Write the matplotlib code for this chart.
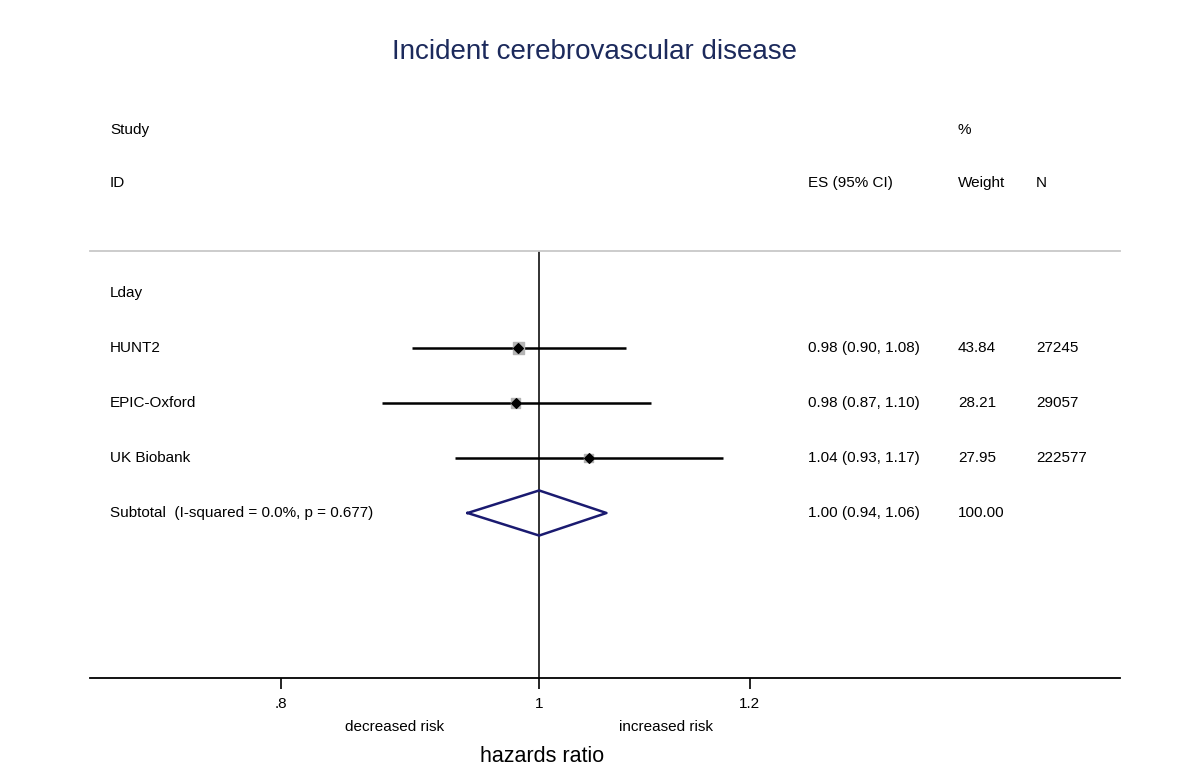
import numpy as np
import matplotlib.pyplot as plt
from matplotlib.transforms import blended_transform_factory
from matplotlib.ticker import FixedLocator, FixedFormatter, NullLocator

plt.rcParams['font.family'] = ['Liberation Sans', 'DejaVu Sans']

# data (positions, labels as printed)
studies = ['HUNT2', 'EPIC-Oxford', 'UK Biobank']
es = [0.982, 0.980, 1.044]
lo = [0.896, 0.873, 0.930]
hi = [1.078, 1.102, 1.172]
es_text = ['0.98 (0.90, 1.08)', '0.98 (0.87, 1.10)', '1.04 (0.93, 1.17)']
weights = [43.84, 28.21, 27.95]
n_obs = ['27245', '29057', '222577']
sub_es, sub_lo, sub_hi = 1.00, 0.94, 1.06
sub_text = '1.00 (0.94, 1.06)'
sub_label = 'Subtotal  (I-squared = 0.0%, p = 0.677)'
group = 'Lday'
ticks = [0.8, 1.0, 1.2]
tick_labels = ['.8', '1', '1.2']

W, H = 1189, 784
fig = plt.figure(figsize=(W / 100, H / 100), dpi=100)

# axes in pixel box: x 90..1120, y 251..678
top_px, bot_px, row0_px, row_px = 251, 678, 293, 55
ax = fig.add_axes([90 / W, (H - bot_px) / H, 1030 / W, (bot_px - top_px) / H])
ax.set_xscale('log')
ax.set_xlim(0.678, 1.653)
ax.set_ylim((bot_px - row0_px) / row_px, (top_px - row0_px) / row_px)

for s in ['left', 'right']:
    ax.spines[s].set_visible(False)
ax.spines['top'].set_color('#c8c8c8')
ax.spines['top'].set_linewidth(1.3)
ax.spines['bottom'].set_linewidth(1.3)
ax.set_yticks([])
ax.xaxis.set_major_locator(FixedLocator(ticks))
ax.xaxis.set_major_formatter(FixedFormatter(tick_labels))
ax.xaxis.set_minor_locator(NullLocator())
ax.tick_params(axis='x', length=8, width=1.2, labelsize=11, pad=6)

ax.axvline(1.0, color='#222222', lw=1.3, zorder=1)

rows = np.arange(1, len(studies) + 1)
ax.hlines(rows, lo, hi, color='black', lw=1.8, zorder=2)
ax.scatter(es, rows, s=np.array(weights) * 1.5, marker='s', color='#b4b4b4', zorder=3)
ax.scatter(es, rows, s=24, marker='D', color='black', zorder=4)

dy = 0.41
sr = len(studies) + 1
ax.plot([sub_lo, sub_es, sub_hi, sub_es, sub_lo], [sr, sr - dy, sr, sr + dy, sr],
        color='#1a1a70', lw=1.8, zorder=3)

# text columns: x in figure fraction, y in data rows
tr = blended_transform_factory(fig.transFigure, ax.transData)
fs = 11
xid, xes, xw, xn = 110 / W, 808 / W, 958 / W, 1036 / W
hdr1 = (130 - row0_px) / row_px
hdr2 = (183 - row0_px) / row_px


def put(x, y, s):
    ax.text(x, y, s, transform=tr, fontsize=fs, va='center', clip_on=False)


put(xid, hdr1, 'Study')
put(xid, hdr2, 'ID')
put(xes, hdr2, 'ES (95% CI)')
put(xw, hdr1, '%')
put(xw, hdr2, 'Weight')
put(xn, hdr2, 'N')

put(xid, 0, group)
for i, r in enumerate(rows):
    put(xid, r, studies[i])
    put(xes, r, es_text[i])
    put(xw, r, f'{weights[i]:.2f}')
    put(xn, r, n_obs[i])
put(xid, sr, sub_label)
put(xes, sr, sub_text)
put(xw, sr, f'{sum(weights):.2f}')

fig.text(395 / W, 1 - 727 / H, 'decreased risk', ha='center', va='center', fontsize=11)
fig.text(666 / W, 1 - 727 / H, 'increased risk', ha='center', va='center', fontsize=11)
fig.text(542 / W, 1 - 757 / H, 'hazards ratio', ha='center', va='center', fontsize=15.5)
fig.text(595 / W, 1 - 52 / H, 'Incident cerebrovascular disease', ha='center',
         va='center', fontsize=20, color='#1c2a5c')

fig.savefig('out.png', dpi=100, facecolor='white')
